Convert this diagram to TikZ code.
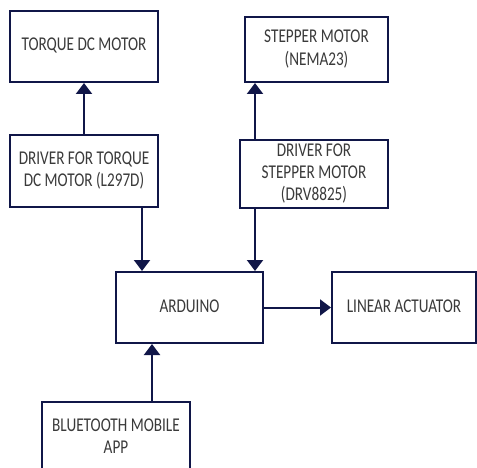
\documentclass[tikz,border=0pt]{standalone}
\usepackage{fontspec}
\usepackage{graphicx}
\setmainfont{Carlito}
\usetikzlibrary{arrows.meta, positioning, calc}
\definecolor{BoxNavy}{RGB}{16,22,72}
\definecolor{TextGray}{RGB}{58,58,58}
\newcommand{\narrowtext}[1]{\scalebox{0.78}[1]{\begin{tabular}{@{}c@{}}#1\end{tabular}}}

\begin{document}
\begin{tikzpicture}[x=1pt, y=-1pt,
    block/.style={draw=BoxNavy, line width=2pt, fill=white, align=center,
      text=TextGray, font=\fontsize{19.5}{22.5}\selectfont, inner sep=0pt},
    arr/.style={draw=BoxNavy, line width=2pt, -{Triangle[width=16pt, length=11pt]}}]
  \useasboundingbox (0,0) rectangle (477,468);

  % motors and drivers
  \node[block, minimum width=148pt, minimum height=71pt] (tdc) at (84,46.5) {\narrowtext{TORQUE DC MOTOR}};
  \node[block, minimum width=148pt, minimum height=72pt] (drvt) at (84,171) {\narrowtext{DRIVER FOR TORQUE\\DC MOTOR (L297D)}};
  \node[block, minimum width=143pt, minimum height=65pt] (stp) at (316.5,49.5) {\narrowtext{STEPPER MOTOR\\(NEMA23)}};
  \node[block, minimum width=148pt, minimum height=66pt] (drvs) at (314,174) {\narrowtext{DRIVER FOR\\STEPPER MOTOR\\(DRV8825)}};

  % controller
  \node[block, minimum width=147pt, minimum height=71pt] (ard) at (189.5,307.5) {\narrowtext{ARDUINO}};
  \node[block, minimum width=144pt, minimum height=71pt] (lin) at (404,307.5) {\narrowtext{LINEAR ACTUATOR}};
  \node[block, minimum width=148pt, minimum height=72pt] (bt) at (116,438) {\narrowtext{BLUETOOTH MOBILE\\APP}};

  \coordinate (ta) at ([xshift=27pt]ard.north west);
  \coordinate (sa) at ([xshift=-9pt]ard.north east);
  \coordinate (ba) at ([xshift=37pt]ard.south west);

  \draw[arr] (drvt.north) -- (tdc.south);
  \draw[arr] (drvt.south -| ta) -- (ta);
  \draw[arr] (drvs.north -| sa) -- (stp.south -| sa);
  \draw[arr] (drvs.south -| sa) -- (sa);
  \draw[arr] (ard.east) -- (lin.west);
  \draw[arr] (bt.north -| ba) -- (ba);
\end{tikzpicture}
\end{document}
